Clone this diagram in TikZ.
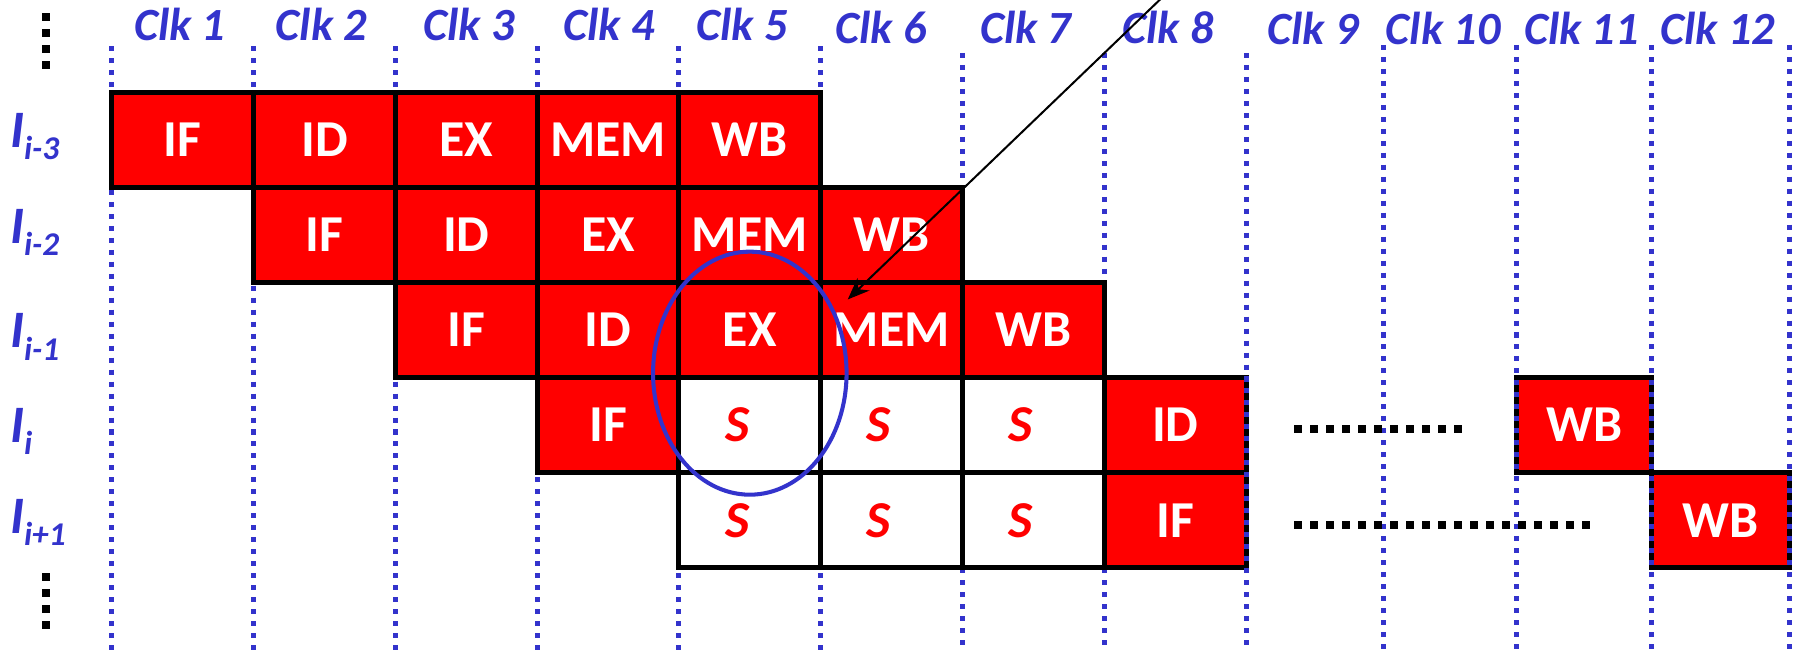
\documentclass[tikz,border=0pt]{standalone}
\usepackage{fontspec}
\setmainfont{Carlito}
\usetikzlibrary{arrows.meta,shapes.geometric}
\definecolor{clkblue}{HTML}{3333CC}
\definecolor{stagered}{HTML}{FF0000}
\begin{document}
\begin{tikzpicture}[x=1mm,y=-1mm,
  cell/.style={draw=black, line width=1.24pt, minimum width=12.3125mm, minimum height=8.26mm, inner sep=0pt, outer sep=0pt},
  busy/.style={cell, fill=stagered, text=white, font=\fontsize{12.8}{14}\selectfont\bfseries},
  stall/.style={cell, fill=white, text=stagered, font=\fontsize{12.8}{14}\selectfont\bfseries\itshape},
  clklab/.style={text=clkblue, font=\fontsize{11.4}{13}\selectfont\bfseries\itshape, anchor=base, inner sep=0pt},
  rowlab/.style={text=clkblue, font=\fontsize{13}{15}\selectfont\bfseries\itshape, anchor=base west, inner sep=0pt},
  gridline/.style={clkblue, line width=1.24pt, dash pattern=on 1.24pt off 1.72pt},
  blackdot/.style={black},
  ]
\useasboundingbox (0,0) rectangle (156.8,57);

% clock labels
\node[clklab] (clk1) at (15.6,3.5) {Clk 1};
\node[clklab] (clk2) at (27.9,3.5) {Clk 2};
\node[clklab] (clk3) at (40.7,3.5) {Clk 3};
\node[clklab] (clk4) at (52.9,3.5) {Clk 4};
\node[clklab] (clk5) at (64.4,3.5) {Clk 5};
\node[clklab] (clk6) at (76.5,3.8) {Clk 6};
\node[clklab] (clk7) at (89.05,3.8) {Clk 7};
\node[clklab] (clk8) at (101.4,3.8) {Clk 8};
\node[clklab] (clk9) at (114.0,3.9) {Clk 9};
\node[clklab] (clk10) at (125.3,3.9) {Clk 10};
\node[clklab] (clk11) at (137.3,3.9) {Clk 11};
\node[clklab] (clk12) at (149.15,3.9) {Clk 12};

% row labels
\newcommand{\rowsub}[1]{\raisebox{-3.1pt}{\fontsize{8.2}{9}\selectfont #1}}
\node[rowlab] (ri3) at (0.8,12.8) {I\rowsub{i-3}};
\node[rowlab] (ri2) at (0.8,21.1) {I\rowsub{i-2}};
\node[rowlab] (ri1) at (0.8,30.2) {I\rowsub{i-1}};
\node[rowlab] (ri0) at (0.8,38.4) {I\rowsub{i}};
\node[rowlab] (rip) at (0.8,46.3) {I\rowsub{i+1}};

% vertical ellipsis dots
\foreach \yy in {1.45,2.85,4.25,5.65} \fill[blackdot] (3.655,\yy-0.345) rectangle (4.345,\yy+0.345);
\foreach \yy in {50.1,51.5,52.9,54.3} \fill[blackdot] (3.655,\yy-0.345) rectangle (4.345,\yy+0.345);

% clock grid lines (behind boxes)
\foreach \xx in {9.7,22.0125,34.325,46.6375,58.95,71.2625} \draw[gridline] (\xx,4.0) -- (\xx,56.5);
\foreach \xx in {83.575,95.8875} \draw[gridline] (\xx,4.6) -- (\xx,56.5);

% row I(i-3)
\node[busy] (a1) at (15.856,12.13) {IF};
\node[busy] (a2) at (28.169,12.13) {ID};
\node[busy] (a3) at (40.481,12.13) {EX};
\node[busy] (a4) at (52.794,12.13) {MEM};
\node[busy] (a5) at (65.106,12.13) {WB};
% row I(i-2)
\node[busy] (b2) at (28.169,20.39) {IF};
\node[busy] (b3) at (40.481,20.39) {ID};
\node[busy] (b4) at (52.794,20.39) {EX};
\node[busy] (b5) at (65.106,20.39) {MEM};
\node[busy] (b6) at (77.419,20.39) {WB};
% row I(i-1)
\node[busy] (c3) at (40.481,28.65) {IF};
\node[busy] (c4) at (52.794,28.65) {ID};
\node[busy] (c5) at (65.106,28.65) {EX};
\node[busy] (c6) at (77.419,28.65) {MEM};
\node[busy] (c7) at (89.731,28.65) {WB};
% row I(i)
\node[busy] (d4) at (52.794,36.91) {IF};
\node[stall] (d5) at (65.106,36.91) {S\kern2.2mm};
\node[stall] (d6) at (77.419,36.91) {S\kern2.2mm};
\node[stall] (d7) at (89.731,36.91) {S\kern2.2mm};
\node[busy] (d8) at (102.044,36.91) {ID};
\node[busy, minimum width=11.7mm] (d11) at (137.55,36.91) {WB};
% row I(i+1)
\node[stall] (e5) at (65.106,45.17) {S\kern2.2mm};
\node[stall] (e6) at (77.419,45.17) {S\kern2.2mm};
\node[stall] (e7) at (89.731,45.17) {S\kern2.2mm};
\node[busy] (e8) at (102.044,45.17) {IF};
\node[busy, minimum width=12.0mm] (e12) at (149.4,45.17) {WB};

% grid lines drawn over the later boxes
\draw[gridline] (108.2,4.6) -- (108.2,56.5);
\foreach \xx in {120.1,131.7,143.4,155.4} \draw[gridline] (\xx,3.9) -- (\xx,56.5);

% horizontal ellipsis dots
\foreach \k in {0,...,10} \fill[blackdot] (112.37+1.39*\k,37.25-0.34) rectangle (113.05+1.39*\k,37.25+0.34);
\foreach \k in {0,...,18} \fill[blackdot] (112.37+1.39*\k,45.6-0.34) rectangle (113.05+1.39*\k,45.6+0.34);

% highlight ellipse
\node[draw=clkblue, line width=1pt, ellipse, minimum width=16.8mm, minimum height=21.1mm, inner sep=0pt] (hl) at (65.1,32.4) {};

% arrow
\coordinate (arrowfrom) at (101.3,-0.6);
\coordinate (arrowto) at (73.6,26.0);
\draw[line width=0.5pt, -{Stealth[length=1.9mm,width=1.5mm]}] (arrowfrom) -- (arrowto);
\end{tikzpicture}
\end{document}
